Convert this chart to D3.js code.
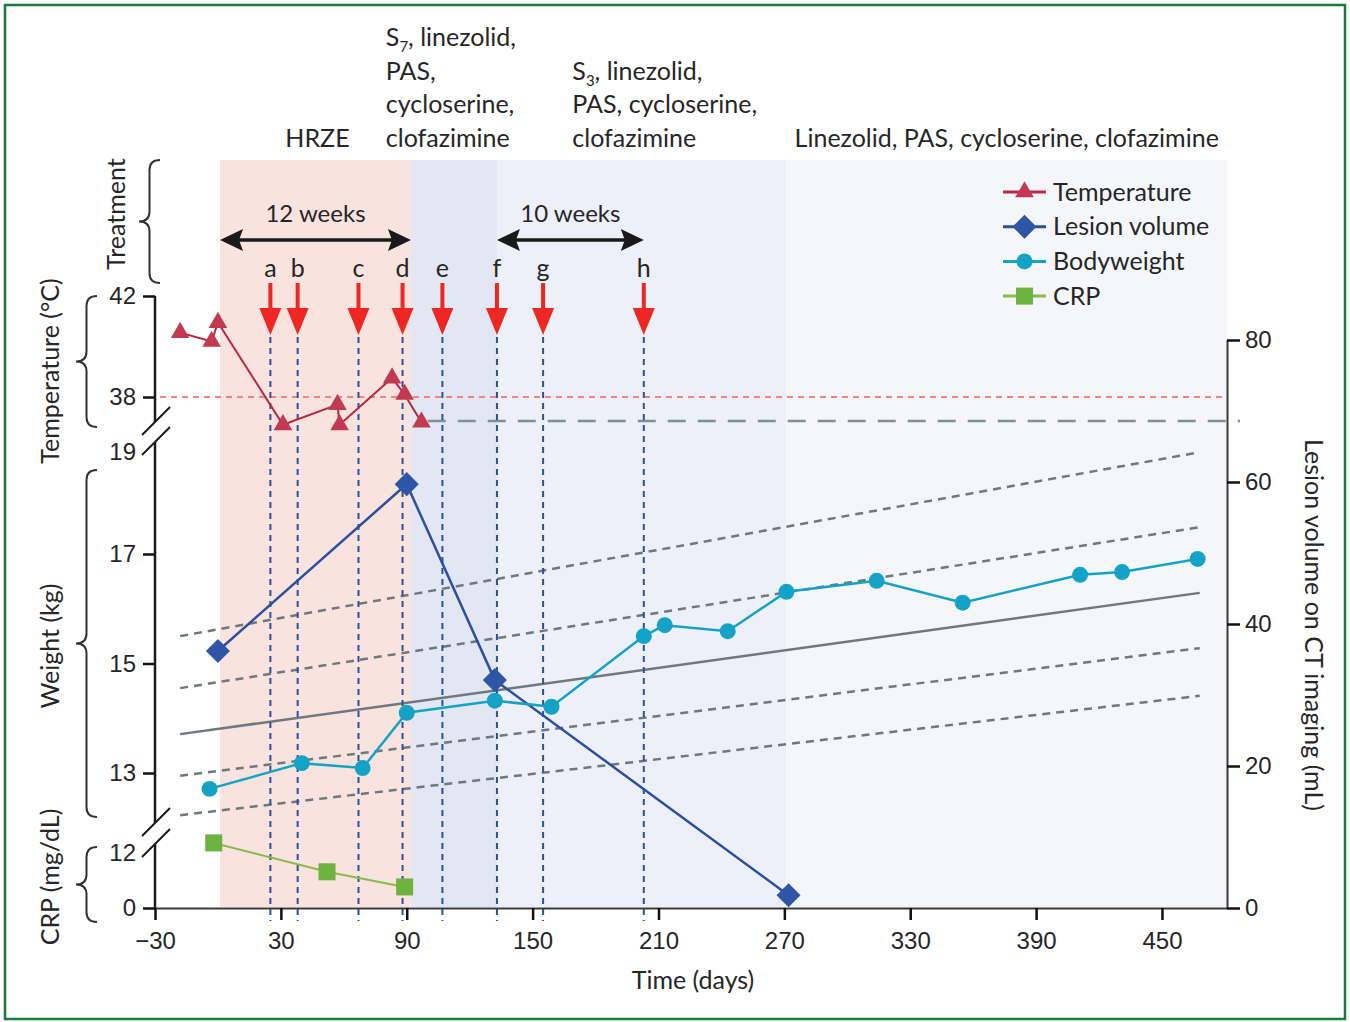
<!DOCTYPE html>
<html>
<head>
<meta charset="utf-8">
<script src="https://cdn.jsdelivr.net/npm/d3@7"></script>
<style>
  html, body { margin: 0; padding: 0; background: #fff; }
  svg { display: block; font-family: Lato, 'Open Sans', sans-serif; }
</style>
</head>
<body>
<svg id="chart" width="1350" height="1022"></svg>
<script>
'use strict';

// ---- data ----
const X_TICKS = [-30, 30, 90, 150, 210, 270, 330, 390, 450];
const TEMP_TICKS = [38, 42];
const WEIGHT_TICKS = [13, 15, 17, 19];
const CRP_TICKS = [0, 12];
const LESION_TICKS = [0, 20, 40, 60, 80];

const TEMP_DAYS = [-18, -3, 0, 31, 57, 58, 83, 89, 97];
const TEMP_VALUES = [40.55, 40.2, 40.95, 36.9, 37.7, 36.9, 38.75, 38.1, 37.0];

const LESION_DAYS = [0, 90, 132, 272];
const LESION_VALUES = [36.2, 59.7, 32.1, 1.8];

const WEIGHT_DAYS = [-4, 40, 69, 90, 132, 159, 203, 213, 243, 271, 314, 355, 411, 431, 467];
const WEIGHT_VALUES = [12.71, 13.18, 13.09, 14.1, 14.32, 14.21, 15.5, 15.7, 15.59, 16.31, 16.51, 16.11, 16.62, 16.67, 16.91];

const CRP_DAYS = [-2, 52, 89];
const CRP_VALUES = [14.2, 7.9, 4.6];

// growth reference lines (start / end weight), the middle one is the median
const GROWTH_DAYS = [-18, 468];
const GROWTH_START_KG = [15.5, 14.55, 13.71, 12.95, 12.23];
const GROWTH_END_KG = [18.86, 17.49, 16.29, 15.28, 14.41];

const FEVER_LIMIT = 38;
const NORMAL_TEMP = 37.05;
const NORMAL_FROM_DAY = 100;

const EVENT_LABELS = ['a', 'b', 'c', 'd', 'e', 'f', 'g', 'h'];
const EVENT_DAYS = [25, 38, 67, 88, 107, 133, 155, 203];

const PERIOD_STARTS = [1, 92, 133, 271];
const PERIOD_ENDS = [92, 133, 271, 481];
const PERIOD_TEXT = [
    ['HRZE'],
    ['S_7, linezolid,', 'PAS,', 'cycloserine,', 'clofazimine'],
    ['S_3, linezolid,', 'PAS, cycloserine,', 'clofazimine'],
    ['Linezolid, PAS, cycloserine, clofazimine'],
];

const SPAN_LABELS = ['12 weeks', '10 weeks'];
const SPAN_STARTS = [1, 133];
const SPAN_ENDS = [92, 203];

const LEGEND_LABELS = ['Temperature', 'Lesion volume', 'Bodyweight', 'CRP'];

// ---- layout ----
const TEXT = '#262626';
const AXIS_Y = 908;
const PERIOD_NUDGE = [2, -3, 23, 0];
const PERIOD_FILLS = ['#f9e3df', '#e3e7f3', '#edf0f8', '#f5f6fa'];
const COLORS = { temp: '#b8283f', tempMark: '#c23a52', lesion: '#2d4f9f', lesionMark: '#2f56a6',
    weight: '#14a3c6', crp: '#8aba4c', crpMark: '#6db33f', arrow: '#ee2722', event: '#2c4fa0' };

const svg = d3.select('#chart');

svg.append('rect')
    .attr('x', 5).attr('y', 5).attr('width', 1340).attr('height', 1014)
    .attr('fill', '#fff').attr('stroke', '#1b7a3d').attr('stroke-width', 2.5);

const x = d3.scaleLinear().domain([-30, 481]).range([155, 1227]);
const yTemp = d3.scaleLinear().domain([38, 42]).range([397, 296]);
const yWeight = d3.scaleLinear().domain([13, 17]).range([773, 554]);
const yCrp = d3.scaleLinear().domain([0, 12]).range([AXIS_Y, 853]);
const yLesion = d3.scaleLinear().domain([0, 80]).range([AXIS_Y, 340]);

// treatment periods
svg.append('g').selectAll('rect')
    .data(PERIOD_STARTS)
    .join('rect')
    .attr('x', (d) => x(d))
    .attr('y', 160)
    .attr('width', (d, i) => x(PERIOD_ENDS[i]) - x(d))
    .attr('height', AXIS_Y - 161)
    .attr('fill', (d, i) => PERIOD_FILLS[i]);

// treatment names, lines stacked upward from a common baseline
const addLine = (sel, str) => {
    const parts = str.split('_');
    sel.append('tspan').text(parts[0]);
    if (parts.length > 1) {
        sel.append('tspan').attr('font-size', 15).attr('dy', 6).text(parts[1][0]);
        sel.append('tspan').attr('dy', -6).text(parts[1].slice(1));
    }
};
PERIOD_TEXT.forEach((lines, i) => {
    const g = svg.append('g').attr('font-size', 25).attr('fill', TEXT);
    lines.forEach((line, j) => {
        const t = g.append('text').attr('x', 0).attr('y', 147 - (lines.length - 1 - j) * 33.7);
        addLine(t, line);
    });
    const w = g.node().getBBox().width;
    const cx = (x(PERIOD_STARTS[i]) + x(PERIOD_ENDS[i])) / 2 + PERIOD_NUDGE[i];
    g.attr('transform', `translate(${cx - w / 2},0)`);
});

// fever threshold and normal temperature
svg.append('line')
    .attr('x1', 160).attr('x2', x.range()[1])
    .attr('y1', yTemp(FEVER_LIMIT)).attr('y2', yTemp(FEVER_LIMIT))
    .attr('stroke', '#f2867c').attr('stroke-width', 2).attr('stroke-dasharray', '6 5');
svg.append('line')
    .attr('x1', x(NORMAL_FROM_DAY)).attr('x2', x.range()[1] + 13)
    .attr('y1', yTemp(NORMAL_TEMP)).attr('y2', yTemp(NORMAL_TEMP))
    .attr('stroke', '#7d9195').attr('stroke-width', 2.5).attr('stroke-dasharray', '18 12');

// growth reference lines
svg.append('g').selectAll('line')
    .data(GROWTH_START_KG)
    .join('line')
    .attr('x1', x(GROWTH_DAYS[0])).attr('x2', x(GROWTH_DAYS[1]))
    .attr('y1', (d) => yWeight(d))
    .attr('y2', (d, i) => yWeight(GROWTH_END_KG[i]))
    .attr('stroke', '#6e787d')
    .attr('stroke-width', 2.5)
    .attr('stroke-dasharray', (d, i) => (i === 2 ? null : '8 6'));

// event markers
svg.append('g').selectAll('line')
    .data(EVENT_DAYS)
    .join('line')
    .attr('x1', (d) => x(d)).attr('x2', (d) => x(d))
    .attr('y1', 337).attr('y2', AXIS_Y + 13)
    .attr('stroke', COLORS.event).attr('stroke-width', 2).attr('stroke-dasharray', '6 5');

const arrows = svg.append('g').selectAll('g').data(EVENT_DAYS).join('g')
    .attr('transform', (d) => `translate(${x(d)},0)`);
arrows.append('line').attr('y1', 283).attr('y2', 312)
    .attr('stroke', COLORS.arrow).attr('stroke-width', 4);
arrows.append('path').attr('d', 'M-11,308L11,308L0,335Z').attr('fill', COLORS.arrow);
arrows.append('text').attr('y', 277).attr('text-anchor', 'middle')
    .attr('font-size', 25).attr('fill', TEXT)
    .text((d, i) => EVENT_LABELS[i]);

// duration spans
const spans = svg.append('g').selectAll('g').data(SPAN_STARTS).join('g');
spans.append('line')
    .attr('x1', (d) => x(d) + 14).attr('x2', (d, i) => x(SPAN_ENDS[i]) - 14)
    .attr('y1', 240).attr('y2', 240)
    .attr('stroke', '#1a1a1a').attr('stroke-width', 3.5);
spans.append('path')
    .attr('d', (d, i) => {
        const a = x(d);
        const b = x(SPAN_ENDS[i]);
        return `M${a},240L${a + 23},229L${a + 19},240L${a + 23},251Z` +
            `M${b},240L${b - 23},229L${b - 19},240L${b - 23},251Z`;
    })
    .attr('fill', '#1a1a1a');
spans.append('text')
    .attr('x', (d, i) => (x(d) + x(SPAN_ENDS[i])) / 2)
    .attr('y', 222).attr('text-anchor', 'middle')
    .attr('font-size', 24).attr('fill', TEXT)
    .text((d, i) => SPAN_LABELS[i]);

// axes
const styleAxis = (g) => {
    g.selectAll('.tick line').attr('stroke', '#111').attr('stroke-width', 2.5);
    g.selectAll('.tick text').attr('font-size', 24).attr('fill', TEXT).attr('font-family', null);
    g.select('.domain').attr('stroke', '#3a3a3a').attr('stroke-width', 2);
};
const fmt = d3.format('d');

svg.append('g')
    .attr('transform', `translate(0,${AXIS_Y})`)
    .call(d3.axisBottom(x).tickValues(X_TICKS).tickFormat(fmt).tickSize(12).tickSizeOuter(0).tickPadding(12))
    .call(styleAxis);

svg.append('g')
    .attr('transform', `translate(${x.range()[1]},0)`)
    .call(d3.axisRight(yLesion).tickValues(LESION_TICKS).tickFormat(fmt).tickSize(13).tickSizeOuter(0).tickPadding(5))
    .call(styleAxis);

const leftAxis = (scale, ticks, noTick) => {
    const g = svg.append('g')
        .attr('transform', `translate(${x.range()[0]},0)`)
        .call(d3.axisLeft(scale).tickValues(ticks).tickFormat(fmt).tickSize(12).tickPadding(7))
        .call(styleAxis);
    g.select('.domain').remove();
    g.selectAll('.tick').filter((d) => d === noTick).select('line').remove();
    return g;
};
leftAxis(yTemp, TEMP_TICKS, null);
const wAxis = leftAxis(yWeight, WEIGHT_TICKS, 19);
wAxis.selectAll('.tick').filter((d) => d === 19).select('text').attr('dy', '0.62em');
leftAxis(yCrp, CRP_TICKS, 12);

const x0 = x.range()[0];
[[yTemp(42), 422], [442, 823], [844, AXIS_Y]].forEach(([a, b]) => {
    svg.append('line').attr('x1', x0).attr('x2', x0).attr('y1', a).attr('y2', b)
        .attr('stroke', '#1a1a1a').attr('stroke-width', 2.5);
});
[422, 442, 823, 844].forEach((cy) => {
    svg.append('line')
        .attr('x1', x0 - 13).attr('y1', cy + 13).attr('x2', x0 + 15).attr('y2', cy - 15)
        .attr('stroke', '#1a1a1a').attr('stroke-width', 2);
});

// braces
const brace = (bx, y0, y1, depth) => {
    const m = (y0 + y1) / 2;
    const h = bx - depth / 2;
    const r = 10;
    return `M${bx},${y0}Q${h},${y0} ${h},${y0 + r}L${h},${m - r}Q${h},${m} ${bx - depth},${m}` +
        `Q${h},${m} ${h},${m + r}L${h},${y1 - r}Q${h},${y1} ${bx},${y1}`;
};
[[160, 160, 283], [97, 296, 427], [97, 470, 817], [97, 847, 922]].forEach(([bx, a, b]) => {
    svg.append('path').attr('d', brace(bx, a, b, 21))
        .attr('fill', 'none').attr('stroke', '#333').attr('stroke-width', 2);
});

// axis titles
const title = (tx, ty, rot, str) => svg.append('text')
    .attr('transform', `translate(${tx},${ty}) rotate(${rot})`)
    .attr('text-anchor', 'middle').attr('dy', '0.35em')
    .attr('font-size', 25).attr('fill', TEXT).text(str);
title(116, 214, -90, 'Treatment');
title(50, 371, -90, 'Temperature (\u00b0C)');
title(50, 646, -90, 'Weight (kg)');
title(50, 877, -90, 'CRP (mg/dL)');
title(1314, 625, 90, 'Lesion volume on CT imaging (mL)');
title(693, 980, 0, 'Time (days)');

// series
const series = (days, vals, yScale, stroke, width) => {
    svg.append('path')
        .datum(days.map((d, i) => [x(d), yScale(vals[i])]))
        .attr('d', d3.line())
        .attr('fill', 'none').attr('stroke', stroke).attr('stroke-width', width);
};
series(TEMP_DAYS, TEMP_VALUES, yTemp, COLORS.temp, 2);
series(LESION_DAYS, LESION_VALUES, yLesion, COLORS.lesion, 2.5);
series(WEIGHT_DAYS, WEIGHT_VALUES, yWeight, COLORS.weight, 2.5);
series(CRP_DAYS, CRP_VALUES, yCrp, COLORS.crp, 2);

const SYMBOLS = [
    { type: d3.symbolTriangle, size: 150, rot: 0, fill: COLORS.tempMark },
    { type: d3.symbolSquare, size: 290, rot: 45, fill: COLORS.lesionMark },
    { type: d3.symbolCircle, size: 200, rot: 0, fill: COLORS.weight },
    { type: d3.symbolSquare, size: 290, rot: 0, fill: COLORS.crpMark },
];
const marks = (days, vals, yScale, k) => {
    const s = SYMBOLS[k];
    svg.append('g').selectAll('path')
        .data(days)
        .join('path')
        .attr('d', d3.symbol(s.type, s.size))
        .attr('transform', (d, i) => `translate(${x(d)},${yScale(vals[i])}) rotate(${s.rot})`)
        .attr('fill', s.fill);
};
marks(TEMP_DAYS, TEMP_VALUES, yTemp, 0);
marks(LESION_DAYS, LESION_VALUES, yLesion, 1);
marks(WEIGHT_DAYS, WEIGHT_VALUES, yWeight, 2);
marks(CRP_DAYS, CRP_VALUES, yCrp, 3);

// legend
const LEGEND_LINES = [COLORS.temp, COLORS.lesion, COLORS.weight, COLORS.crp];
const legend = svg.append('g').selectAll('g').data(LEGEND_LABELS).join('g')
    .attr('transform', (d, i) => `translate(1003,${192 + i * 34.7})`);
legend.append('line').attr('x1', 0).attr('x2', 43)
    .attr('stroke', (d, i) => LEGEND_LINES[i]).attr('stroke-width', 3);
legend.append('path')
    .attr('d', (d, i) => d3.symbol(SYMBOLS[i].type, SYMBOLS[i].size)())
    .attr('transform', (d, i) => `translate(21.5,0) rotate(${SYMBOLS[i].rot})`)
    .attr('fill', (d, i) => SYMBOLS[i].fill);
legend.append('text').attr('x', 50).attr('dy', '0.35em')
    .attr('font-size', 25).attr('fill', TEXT).text((d) => d);
</script>
</body>
</html>
